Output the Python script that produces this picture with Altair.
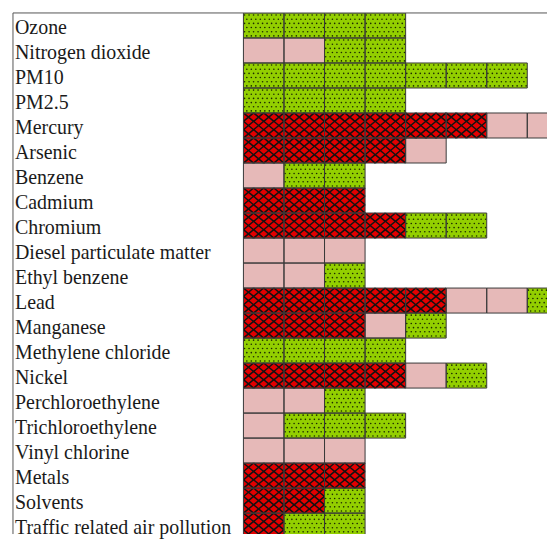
import altair as alt
import pandas as pd

pollutants = [
    "Ozone", "Nitrogen dioxide", "PM10", "PM2.5", "Mercury", "Arsenic",
    "Benzene", "Cadmium", "Chromium", "Diesel particulate matter",
    "Ethyl benzene", "Lead", "Manganese", "Methylene chloride", "Nickel",
    "Perchloroethylene", "Trichloroethylene", "Vinyl chlorine", "Metals",
    "Solvents", "Traffic related air pollution",
]
# R = red cross-hatched, P = pink plain, G = green dotted
cells = [
    "GGGG", "PPGG", "GGGGGGG", "GGGG", "RRRRRRPP", "RRRRP",
    "PGG", "RRR", "RRRRGG", "PPP",
    "PPG", "RRRRRPPG", "RRRPG", "GGGG", "RRRRPG",
    "PPG", "PGGG", "PPP", "RRR",
    "RRG", "RGG",
]
colors = {"R": "#e20000", "P": "#e6b9b8", "G": "#93cf00"}

COLW = 40.7          # px per cell column
ROWH = 25.1          # px per row
PLOT_W = 536
PLOT_H = 523
LABEL_COLS = 231.3 / COLW
XMAX = (PLOT_W - 231.3) / COLW
YMAX = PLOT_H / ROWH
NROWS = len(pollutants)

cell_rows = []
hatch_rows = []
dot_rows = []
for r, (name, seq) in enumerate(zip(pollutants, cells)):
    for c, t in enumerate(seq):
        cell_rows.append({"x": c, "x2": c + 1, "y": r, "y2": r + 1, "t": t})
        if t == "R":
            for i in range(4):
                for j in range(3):
                    hatch_rows.append({"x": c + (i + 0.5) / 4, "y": r + (j + 0.5) / 3})
        elif t == "G":
            for j in range(6):
                for i in range(9):
                    off = 0.25 if j % 2 == 0 else 0.75
                    dot_rows.append({"x": c + (i + off) / 9, "y": r + (j + 0.5) / 6})

cells_df = pd.DataFrame(cell_rows)
hatch_df = pd.DataFrame(hatch_rows)
dots_df = pd.DataFrame(dot_rows)
labels_df = pd.DataFrame({"name": pollutants,
                          "y": [r + 21.0 / ROWH for r in range(NROWS)],
                          "x": [-LABEL_COLS] * NROWS})

xs = alt.Scale(domain=[-LABEL_COLS, XMAX], nice=False, zero=False)
ys = alt.Scale(domain=[0, YMAX], nice=False, zero=False, reverse=True)
X = lambda f="x:Q": alt.X(f, scale=xs, axis=None)
Y = lambda f="y:Q": alt.Y(f, scale=ys, axis=None)

fills = alt.Chart(cells_df).mark_rect(strokeWidth=0, clip=True).encode(
    x=X(), x2="x2", y=Y(), y2="y2",
    color=alt.Color("t:N", scale=alt.Scale(domain=list(colors.keys()),
                                           range=list(colors.values())), legend=None),
)

# X glyph stretched to the hatch cell (10.2 x 8.5 px)
hatch_path = "M-1,-0.833L1,0.833M-1,0.833L1,-0.833"
hatch = alt.Chart(hatch_df).mark_point(
    shape=hatch_path, size=104, stroke="#121212", strokeWidth=1.5,
    filled=False, opacity=1, clip=True,
).encode(x=X(), y=Y())

dots = alt.Chart(dots_df).mark_point(
    shape="circle", size=2.6, filled=True, color="#1d2a00", opacity=1, clip=True,
).encode(x=X(), y=Y())

outlines = alt.Chart(cells_df).mark_rect(
    fillOpacity=0, stroke="#3a3a3a", strokeWidth=1, clip=True
).encode(x=X(), x2="x2", y=Y(), y2="y2")

border_df = pd.DataFrame({"x": [-LABEL_COLS], "y": [0.0]})
left_rule = alt.Chart(border_df).mark_rule(color="#555555", strokeWidth=1).encode(x=X())
top_rule = alt.Chart(border_df).mark_rule(color="#555555", strokeWidth=1).encode(y=Y())

labels = alt.Chart(labels_df).mark_text(
    align="left", baseline="alphabetic", dx=2, font="Liberation Serif",
    fontSize=20, color="#1a1a1a",
).encode(x=X(), y=Y(), text="name:N")

chart = alt.layer(fills, hatch, dots, outlines, left_rule, top_rule, labels).properties(
    width=PLOT_W, height=PLOT_H,
    padding={"left": 4, "top": 3, "right": 0, "bottom": 0},
).configure_view(stroke=None)

chart.save("out.html", embed_options={"renderer": "svg", "actions": False})
